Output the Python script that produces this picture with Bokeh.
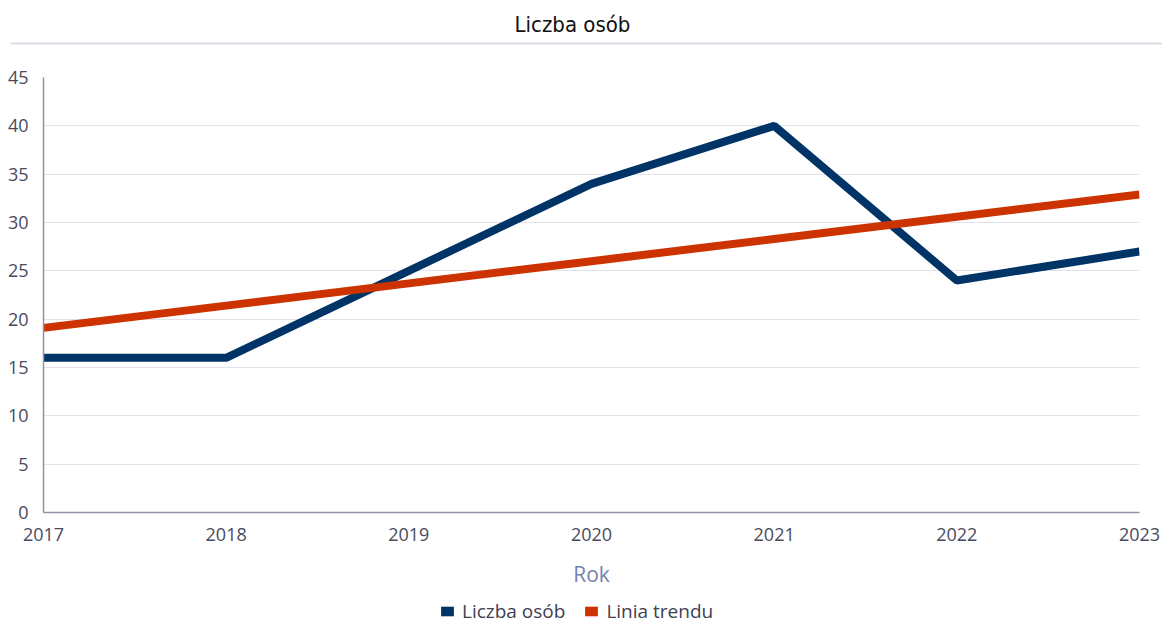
from bokeh.plotting import figure
from bokeh.models import Range1d, Legend, LegendItem, FixedTicker, ColumnDataSource
from bokeh.layouts import column
from bokeh.core.properties import value
from bokeh.embed import file_html
from bokeh.resources import INLINE

years = [2017, 2018, 2019, 2020, 2021, 2022, 2023]
liczba_osob = [16, 16, 25, 34, 40, 24, 27]
linia_trendu = [19.1, 21.4, 23.7, 26.0, 28.3, 30.6, 32.9]
y_ticks = [0, 5, 10, 15, 20, 25, 30, 35, 40, 45]
title_text = "Liczba osób"
x_label = "Rok"
series_names = ["Liczba osób", "Linia trendu"]
colors = ["#003366", "#cc3300"]

W = 1162
HEAD_H = 45
CHART_H = 545
FOOT_H = 36

src = ColumnDataSource(dict(x=years, a=liczba_osob, b=linia_trendu))
xr = Range1d(years[0], years[-1])
yr = Range1d(0, 45)


def bare(fig):
    fig.axis.visible = False
    fig.grid.visible = False
    fig.outline_line_color = None
    fig.frame_align = False


# Header with title and separator
head = figure(width=W, height=HEAD_H, output_backend="svg", toolbar_location=None,
              x_range=Range1d(0, W), y_range=Range1d(0, HEAD_H),
              min_border=0, min_border_left=0, min_border_right=0,
              min_border_top=0, min_border_bottom=0)
bare(head)
head.text(x=[572], y=[HEAD_H - 24], text=[title_text], text_align="center",
          text_baseline="middle",
          text_font=value("'DejaVu Sans Condensed', 'Liberation Sans', sans-serif"),
          text_font_size="22px", text_color="#111111")
head.segment(x0=[10], y0=[2], x1=[W], y1=[2], line_color="#dcdce6", line_width=2)

# Main chart
p = figure(width=W, height=CHART_H, output_backend="svg", toolbar_location=None,
           x_range=xr, y_range=yr,
           min_border_left=43, min_border_right=23, min_border_top=32,
           min_border_bottom=CHART_H - 32 - 435)
p.outline_line_color = None
p.xgrid.visible = False
p.ygrid.grid_line_color = "#e2e2ec"
p.ygrid.grid_line_width = 1

p.line("x", "a", source=src, line_color=colors[0], line_width=8)
p.line("x", "b", source=src, line_color=colors[1], line_width=8)

p.xaxis.ticker = FixedTicker(ticks=years)
p.yaxis.ticker = FixedTicker(ticks=y_ticks)
for ax in (p.xaxis, p.yaxis):
    ax.axis_line_color = "#9292ac"
    ax.axis_line_width = 1.5
    ax.major_tick_line_color = None
    ax.minor_tick_line_color = None
    ax.major_label_text_font = "Open Sans"
    ax.major_label_text_font_size = "18px"
    ax.major_label_text_color = "#4a4a5c"
p.yaxis.major_label_standoff = 9
p.xaxis.major_label_standoff = 9
p.xaxis.axis_label = x_label
p.xaxis.axis_label_text_font = "Open Sans"
p.xaxis.axis_label_text_font_style = "normal"
p.xaxis.axis_label_text_font_size = "21px"
p.xaxis.axis_label_text_color = "#7382b0"
p.xaxis.axis_label_standoff = 16

# Footer with legend (icons from zero-size rects on the real data)
foot = figure(width=W, height=FOOT_H, output_backend="svg", toolbar_location=None,
              x_range=xr, y_range=yr, min_border=0, min_border_left=0,
              min_border_right=0, min_border_top=0, min_border_bottom=0)
bare(foot)
k1 = foot.rect("x", "a", source=src, width=0, height=0, width_units="screen",
               height_units="screen", fill_color=colors[0], line_color=None)
k2 = foot.rect("x", "b", source=src, width=0, height=0, width_units="screen",
               height_units="screen", fill_color=colors[1], line_color=None)
legend = Legend(items=[LegendItem(label=series_names[0], renderers=[k1]),
                       LegendItem(label=series_names[1], renderers=[k2])],
                orientation="horizontal", location=(439, 2),
                glyph_width=16, glyph_height=12, label_standoff=7,
                label_height=22, spacing=18, padding=0, margin=0,
                border_line_color=None, background_fill_alpha=0,
                label_text_font="Open Sans", label_text_font_size="19px",
                label_text_color="#404052")
foot.add_layout(legend)

layout = column(head, p, foot, spacing=0)
open("out.html", "w").write(file_html(layout, INLINE))
